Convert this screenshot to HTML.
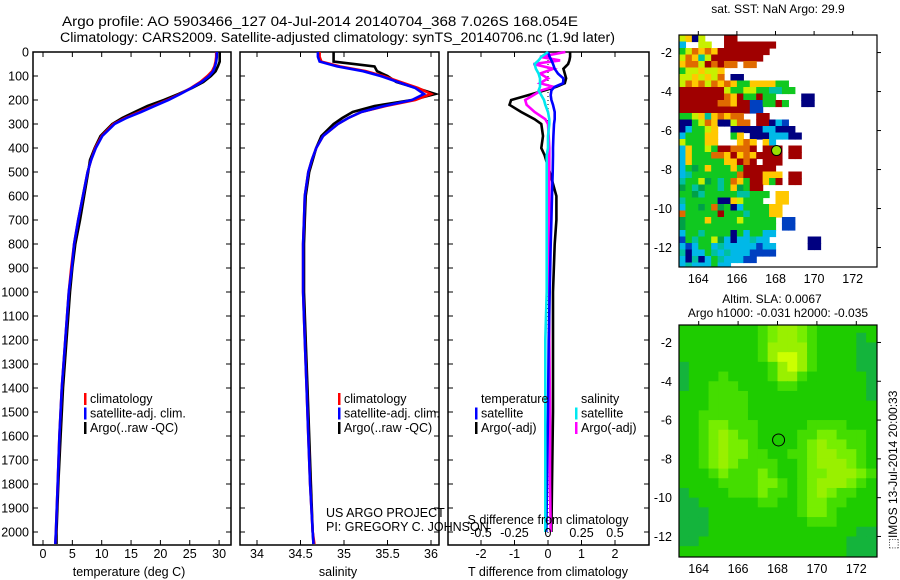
<!DOCTYPE html>
<html><head><meta charset="utf-8"><title>Argo profile</title>
<style>
html,body{margin:0;padding:0;background:#fff;}
svg{display:block;font-family:"Liberation Sans",sans-serif;}
text{fill:#000;}
</style></head>
<body>
<svg id="fig" width="900" height="580" viewBox="0 0 900 580" xmlns="http://www.w3.org/2000/svg">
<text x="62" y="26" font-size="13.5" textLength="516" lengthAdjust="spacingAndGlyphs">Argo profile: AO 5903466_127 04-Jul-2014 20140704_368 7.026S 168.054E</text>
<text x="60" y="42" font-size="13.5" textLength="555" lengthAdjust="spacingAndGlyphs">Climatology: CARS2009. Satellite-adjusted climatology: synTS_20140706.nc (1.9d later)</text>
<text x="778" y="13" font-size="12" text-anchor="middle">sat. SST: NaN Argo: 29.9</text>
<text x="772" y="303" font-size="12" text-anchor="middle">Altim. SLA: 0.0067</text>
<text x="778" y="317" font-size="12" text-anchor="middle">Argo h1000: -0.031 h2000: -0.035</text>
<text transform="translate(897,470) rotate(-90)" font-size="12" text-anchor="middle">⬚IMOS 13-Jul-2014 20:00:33</text>
<g id="layer"></g>
</svg>
<script>
// ---- profile data ----
const depth = [0,20,40,60,80,100,125,150,175,200,225,250,275,300,350,400,450,500,600,700,800,900,1000,1200,1400,1600,1800,2000,2050];
const tempClim = [29.5,29.5,29.4,29.2,28.8,28.0,26.8,25.2,23.3,21.2,18.8,16.4,14.0,12.0,10.0,8.9,8.2,7.6,6.8,6.0,5.3,4.8,4.4,3.8,3.2,2.8,2.5,2.2,2.1];
const tempSat = [29.6,29.6,29.5,29.3,29.0,28.3,27.0,25.3,23.4,21.4,19.0,16.7,14.2,12.2,10.1,9.0,8.2,7.6,6.8,6.0,5.3,4.9,4.4,3.8,3.2,2.8,2.5,2.2,2.1];
const tempArgo = [30.1,30.1,30.1,29.8,29.4,28.6,27.3,25.4,23.1,20.6,17.8,15.6,13.5,11.8,9.8,8.8,8.0,7.7,7.0,6.3,5.5,5.0,4.6,4.0,3.4,3.0,2.6,2.3,2.3];
const salClim = [34.72,34.72,34.74,34.95,35.25,35.45,35.65,35.85,36.0,35.82,35.48,35.2,35.05,34.93,34.76,34.68,34.63,34.59,34.55,34.54,34.53,34.53,34.53,34.55,34.57,34.59,34.61,34.64,34.66];
const salSat = [34.70,34.70,34.72,34.92,35.22,35.42,35.62,35.82,35.92,35.78,35.46,35.2,35.05,34.93,34.76,34.68,34.63,34.59,34.55,34.54,34.53,34.53,34.53,34.55,34.57,34.59,34.61,34.64,34.65];
const salArgo = [34.88,34.88,34.88,35.35,35.38,35.5,35.6,35.83,36.05,35.78,35.35,35.1,34.98,34.88,34.74,34.68,34.64,34.6,34.56,34.55,34.54,34.54,34.54,34.56,34.58,34.6,34.62,34.64,34.65];
const diffDepth = [0,20,35,50,70,90,110,130,145,160,180,200,220,250,280,300,350,400,430,500,600,700,800,1000,1200,1500,1800,2000];
const tDiffArgo = [0.66,0.66,0.64,0.6,0.46,0.5,0.54,0.5,0.25,-0.1,-0.6,-1.1,-1.15,-0.8,-0.4,-0.2,-0.15,-0.2,-0.1,0.05,0.25,0.25,0.2,0.15,0.15,0.15,0.12,0.1];
const tDiffSat = [0,0.05,0.1,0.15,0.2,0.3,0.46,0.45,0.2,0.1,0.08,0.1,0.15,0.2,0.2,0.18,0.16,0.15,0.15,0.14,0.12,0.1,0.08,0.05,0.02,0,-0.03,-0.05];
const sDiffArgo = [0.13,-0.06,0.09,-0.11,0.04,-0.06,0,-0.06,0.04,-0.05,-0.11,-0.17,-0.16,-0.1,-0.02,0,0.005,0.01,0.01,0.01,0.01,0.01,0.01,0.01,0.01,0.015,0.015,0.02];
const sDiffSat = [0,-0.05,-0.07,-0.1,-0.09,-0.07,-0.06,-0.06,-0.06,-0.07,-0.05,-0.03,-0.02,0,0.01,0.01,0,0,-0.01,-0.01,-0.01,-0.01,-0.01,-0.01,-0.02,-0.02,-0.02,-0.02];
const depthTicks = [0,100,200,300,400,500,600,700,800,900,1000,1100,1200,1300,1400,1500,1600,1700,1800,1900,2000];
const tempTicks = [0,5,10,15,20,25,30];
const salTicks = [34,34.5,35,35.5,36];
const tDiffTicks = [-2,-1,0,1,2];
const sDiffTicks = [-0.5,-0.25,0,0.25,0.5];
// ---- SST map (cells 1/3 deg from lon 163, lat -1.1) ----
const sstRows = [
"LYNL...RR.............","c..LL..RRRRRRRR.......","GLOYOYRRRRRRRR........","LOYCLRRRRRRRR.........",
"YOOLROROO.OO..........","GLLYLLY...............","LLYLYLO.NN............","LOYOLOYOYGGYYYYGG.....",
"RRRRRRRLGGLLGGCCGG....","RRRRRRROYRGGRGG....NN.","RRRRRROOYRRBBGGRG..NN.","RRRRRRRRRRRBB.........",
"GGLYCYOYOO..RR........","NNGLOYNNLOO.RRNcB.....","NcGGLY..NNNNNccNNN....","cGGGYY..GY.NNNcccNN...",
"LGGGYY...YOY.Yc.......","cYGGLGRROOOR.RRR.RR...","cYGGGOOYRYOYRRRR.RR...","cYGGGGGYYROR.RRR......",
"cGgGYGGGYGRRRRR.......","cCGGGGGGGORRRYYY.RR...","CGGLgGCGOYGRRYGR.RR...","gGCgGGCGYgGRR.........",
"GGgCGGGGGCCGGG.YY.....","CGGGGGNNYLGGG..YY.....","cGGgGOgGNcGGGGYY......","OGGGGGRGGGCGGGYY......",
"gGGGYGGGGLGGGGG.BB....","gGGGGGGGGGGGGGG.BB....","cGGCGGGGNGcGGcc.......","BGCGGLgcNccCcc......NN",
"cBcGGcCcccccBcc.....NN","CNccGCcCcccBBBB.......","cNCNcGCcccBB..........","cCcccGcc.............."];
const sstColors = {R:"#a00000",O:"#e06a00",Y:"#ffc800",L:"#c8f000",G:"#10c820",g:"#00a048",C:"#00c0a0",c:"#00b8e8",B:"#0040c0",N:"#000080"};
// ---- SLA map (cells 0.5 deg from lon 163, lat -0.5) ----
const slaRows = [
"11111111234432111111","11111111234432111111","11111111234432111101","11111111244442111100",
"11111111245542111100","01111111124542111100","01112111124421111110","01122211112211111110",
"11122221111111111110","11122221111111111111","11222221111111111111","11233222111112222111",
"11234322111122332221","11234332111123433221","11234332211223443321","11234322221123444321",
"11123222321123344432","11112222332123444321","01111222322123432211","00111111221123322111",
"00011111111123321111","00011111111112221111","00011111111111111100","00111111111111111000",
"11111111111111111000"];
const slaColors = ["#14b43c","#1ecc00","#44dd00","#77ee00","#99f000","#ccff00"];
const argoLon = 168.054, argoLat = -7.026;

const NS="http://www.w3.org/2000/svg";
const layer=document.getElementById('layer');
function mk(tag,attrs,parent){const e=document.createElementNS(NS,tag);for(const k in attrs)e.setAttribute(k,attrs[k]);(parent||layer).appendChild(e);return e;}
function txt(s,x,y,size,anchor,parent){const t=mk('text',{x:x,y:y,'font-size':size,'text-anchor':anchor||'start'},parent);t.textContent=s;return t;}

const yTop=52, yPer=0.24, yBot=545;
const yD = d => yTop + d*yPer;
const panels = [
 {x0:33,x1:231,name:'temperature-panel'},
 {x0:240,x1:439,name:'salinity-panel'},
 {x0:448,x1:649,name:'difference-panel'}];
const xT = v => 43 + v*5.87;
const xS = v => 257 + (v-34)*87;
const xTd = v => 548 + v*33.5;
const xSd = v => 548 + v*134;

function frame(p){
 const g=mk('g',{});
 
 
 mk('rect',{x:p.x0,y:yTop,width:p.x1-p.x0,height:yBot-yTop,fill:'none',stroke:'#000','stroke-width':1.5},g);
 depthTicks.forEach(d=>{
  mk('line',{x1:p.x0,x2:p.x0+5,y1:yD(d),y2:yD(d),stroke:'#000'},g);
  mk('line',{x1:p.x1-5,x2:p.x1,y1:yD(d),y2:yD(d),stroke:'#000'},g);
 });
 return g;
}
function xticks(g,ticks,fx,labels){
 ticks.forEach(v=>{
  const x=fx(v);
  mk('line',{x1:x,x2:x,y1:yTop,y2:yTop+5,stroke:'#000'},g);
  mk('line',{x1:x,x2:x,y1:yBot-5,y2:yBot,stroke:'#000'},g);
  if(labels){const t=txt(String(v),x,558,12.5,'middle',g);
   
   }
 });
}
function line(g,xs,ds,fx,color,name,w){
 const pts=xs.map((v,i)=>fx(v).toFixed(1)+','+yD(ds[i]).toFixed(1)).join(' ');
 const l=mk('polyline',{points:pts,fill:'none',stroke:color,'stroke-width':w||2.6,'stroke-linejoin':'miter'},g);
 
 
}
function legend(g,x,y,items){
 items.forEach((it,i)=>{
  const yy=y+i*14.5;
  if(it.c) mk('rect',{x:x-6,y:yy-10,width:2.5,height:12,fill:it.c},g);
  const t=txt(it.t,x,yy,12.5,'start',g);
  
  
 });
}
// depth labels
depthTicks.forEach(d=>{
 const t=txt(String(d),29,yD(d)+4.5,12.5,'end');
 
 
});
// panel 1
let g1=frame(panels[0]);
xticks(g1,tempTicks,xT,true);
line(g1,tempArgo,depth,xT,'#000','argo-temperature-line');
line(g1,tempClim,depth,xT,'#ff0000','clim-temperature-line');
line(g1,tempSat,depth,xT,'#0000ff','sat-temperature-line');
legend(g1,90,403,[{t:'climatology',c:'#f00'},{t:'satellite-adj. clim.',c:'#00f'},{t:'Argo(..raw -QC)',c:'#000'}]);
let tt=txt('temperature (deg C)',129,576,12.5,'middle',g1);
// panel 2
let g2=frame(panels[1]);
xticks(g2,salTicks,xS,true);
line(g2,salArgo,depth,xS,'#000','argo-salinity-line');
line(g2,salClim,depth,xS,'#ff0000','clim-salinity-line');
line(g2,salSat,depth,xS,'#0000ff','sat-salinity-line');
legend(g2,344,403,[{t:'climatology',c:'#f00'},{t:'satellite-adj. clim.',c:'#00f'},{t:'Argo(..raw -QC)',c:'#000'}]);
tt=txt('salinity',338,576,12.5,'middle',g2);
tt=txt('US ARGO PROJECT',326,517,12.5,'start',g2);
tt=txt('PI: GREGORY C. JOHNSON',326,531,12.5,'start',g2);
// panel 3
let g3=frame(panels[2]);
xticks(g3,tDiffTicks,xTd,true);
mk('line',{x1:548,x2:548,y1:yTop,y2:yBot,stroke:'#000','stroke-dasharray':'1,3'},g3);
line(g3,tDiffArgo,diffDepth,xTd,'#000','argo-t-diff-line');
line(g3,sDiffArgo,diffDepth,xSd,'#ff00ff','argo-s-diff-line');
line(g3,tDiffSat,diffDepth,xTd,'#0000ff','sat-t-diff-line');
line(g3,sDiffSat,diffDepth,xSd,'#00e8f0','sat-s-diff-line');
sDiffTicks.forEach(v=>{
 const x=xSd(v);
 mk('line',{x1:x,x2:x,y1:yBot-5,y2:yBot,stroke:'#000'},g3);
 const t=txt(String(v),x,537,12.5,'middle',g3);
 
 
});
tt=txt('S difference from climatology',548,524,12.5,'middle',g3);
tt=txt('T difference from climatology',548,576,12.5,'middle',g3);
legend(g3,481,403,[{t:'temperature'},{t:'satellite',c:'#00f'},{t:'Argo(-adj)',c:'#000'}]);
legend(g3,581,403,[{t:'salinity'},{t:'satellite',c:'#00e8f0'},{t:'Argo(-adj)',c:'#ff00ff'}]);

// ---- maps ----
function map(o){
 const g=mk('g',{});
 
 
 const lx=v=>o.x0+(v-o.lon0)*o.sx, ly=v=>o.y0+(o.lat0-v)*o.sy;
 const cid='clip-'+o.name;
 const cp=mk('clipPath',{id:cid},g);
 mk('rect',{x:o.x0,y:o.y0,width:o.x1-o.x0,height:o.y1-o.y0},cp);
 const cg=mk('g',{'clip-path':'url(#'+cid+')'},g);
 if(o.bg) mk('rect',{x:o.x0,y:o.y0,width:o.x1-o.x0,height:o.y1-o.y0,fill:o.bg},cg);
 o.rows.forEach((row,r)=>{
  for(let c=0;c<row.length;c++){
   const k=row[c]; const col=o.colors[k]; if(!col) continue;
   const x=lx(o.cLon+c*o.step), y=ly(o.cLat-r*o.step);
   const cell=mk('rect',{x:x.toFixed(2),y:y.toFixed(2),width:(o.step*o.sx+0.6).toFixed(2),height:(o.step*o.sy+0.6).toFixed(2),fill:col},cg);
   
   
  }
 });
 mk('rect',{x:o.x0,y:o.y0,width:o.x1-o.x0,height:o.y1-o.y0,fill:'none',stroke:'#000','stroke-width':1.2},g);
 [164,166,168,170,172].forEach(v=>{
  const x=lx(v);
  mk('line',{x1:x,x2:x,y1:o.y0-4,y2:o.y0,stroke:'#000'},g);
  const t=txt(String(v),x,o.y1+16,12.5,'middle',g);
  
  
 });
 [-2,-4,-6,-8,-10,-12].forEach(v=>{
  const y=ly(v);
  mk('line',{x1:o.x1,x2:o.x1+4,y1:y,y2:y,stroke:'#000'},g);
  const t=txt(String(v),o.x0-7,y+4.5,12.5,'end',g);
  
  
 });
 const m=mk('circle',{cx:lx(argoLon),cy:ly(argoLat),r:o.mr,fill:o.mfill,stroke:'#000','stroke-width':1},g);
 
 
}
map({name:'sst-map',x0:679,x1:877,y0:35,y1:267,lon0:163,lat0:-1.1,sx:19.3,sy:19.5,rows:sstRows,colors:sstColors,cLon:163,cLat:-1.1,step:1/3,mr:5,mfill:'#99e000'});
map({name:'sla-map',x0:679,x1:877,y0:325,y1:557,lon0:163,lat0:-1.1,sx:19.7,sy:19.4,rows:slaRows,colors:slaColors,cLon:163,cLat:-0.5,step:0.5,mr:6,mfill:'none',bg:'#1ecc00'});
</script>
</body></html>
